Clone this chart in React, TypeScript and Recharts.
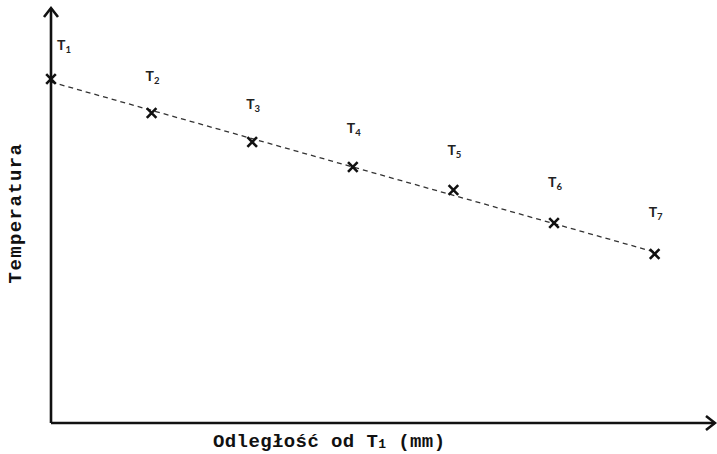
import React from "react";
import {
  ComposedChart,
  XAxis,
  YAxis,
  Scatter,
  Line,
  ReferenceDot,
  Label,
} from "recharts";

const distances = [0, 10, 20, 30, 40, 50, 60];
const temperatures = [86, 77.5, 70.25, 64, 58.25, 50, 42.25];
const pointNames = ["1", "2", "3", "4", "5", "6", "7"];

// fitted trend line, ends
const trendDistances = [0, 60];
const trendTemperatures = [85.25, 42.75];

const xMax = 66;
const yMax = 103.75;

const points = distances.map((d, i) => ({
  x: d,
  y: temperatures[i],
  name: pointNames[i],
}));
const trend = trendDistances.map((d, i) => ({ x: d, y: trendTemperatures[i] }));

const monoFont = "'Liberation Mono', 'Courier New', monospace";
const labelFont = "Lato, 'Open Sans', sans-serif";

const CrossShape = (props: any) => {
  const { cx, cy, payload, index } = props;
  const s = 4.8;
  const first = payload.name === "1";
  const lx = first ? cx + 6 : cx - 6;
  return (
    <g>
      <path
        d={`M${cx - s},${cy - s}L${cx + s},${cy + s}M${cx - s},${cy + s}L${cx + s},${cy - s}`}
        stroke="#111"
        strokeWidth={2.6}
      />
      <text
        x={lx}
        y={cy - (first ? 29 : 31 + (index ?? 0))}
        fontFamily={labelFont}
        fontWeight={700}
        fontSize={14}
        fill="#222"
      >
        T
        <tspan fontSize={9.5} dy={3}>
          {payload.name}
        </tspan>
      </text>
    </g>
  );
};

const UpArrow = (props: any) => {
  const { cx, cy } = props;
  return (
    <path
      d={`M${cx - 7},${cy + 9}L${cx},${cy}L${cx + 7},${cy + 9}`}
      fill="none"
      stroke="#111"
      strokeWidth={2.6}
    />
  );
};

const RightArrow = (props: any) => {
  const { cx, cy } = props;
  return (
    <path
      d={`M${cx - 9},${cy - 7}L${cx},${cy}L${cx - 9},${cy + 7}`}
      fill="none"
      stroke="#111"
      strokeWidth={2.6}
    />
  );
};

const XTitle = (props: any) => {
  const vb = props.viewBox;
  return (
    <text
      x={vb.x + 162}
      y={vb.y + 24}
      fontFamily={monoFont}
      fontWeight={700}
      fontSize={19}
      letterSpacing={0.4}
      fill="#111"
    >
      Odległość od T
      <tspan fontSize={13} dy={1}>
        1
      </tspan>
      <tspan dy={-1}> (mm)</tspan>
    </text>
  );
};

const YTitle = (props: any) => {
  const vb = props.viewBox;
  const x = vb.x + vb.width - 30;
  const y = vb.y + 205;
  return (
    <text
      x={x}
      y={y}
      transform={`rotate(-90, ${x}, ${y})`}
      textAnchor="middle"
      fontFamily={monoFont}
      fontWeight={700}
      fontSize={19}
      letterSpacing={1.4}
      fill="#111"
    >
      Temperatura
    </text>
  );
};

export default function App() {
  return (
    <div
      style={{
        position: "absolute",
        left: 0,
        top: 0,
        width: 717,
        height: 454,
        background: "#fff",
      }}
    >
      <ComposedChart
        width={717}
        height={454}
        margin={{ top: 8, right: 2, bottom: 30, left: 50 }}
      >
        <XAxis
          type="number"
          dataKey="x"
          domain={[0, xMax]}
          height={1}
          tick={false}
          tickLine={false}
          axisLine={{ stroke: "#111", strokeWidth: 2.6 }}
        >
          <Label content={<XTitle />} />
        </XAxis>
        <YAxis
          type="number"
          dataKey="y"
          domain={[0, yMax]}
          width={1}
          tick={false}
          tickLine={false}
          axisLine={{ stroke: "#111", strokeWidth: 2.6 }}
        >
          <Label content={<YTitle />} />
        </YAxis>
        <Line
          data={trend}
          dataKey="y"
          type="linear"
          stroke="#333"
          strokeWidth={1.3}
          strokeDasharray="5 4"
          dot={false}
          activeDot={false}
          isAnimationActive={false}
        />
        <Scatter
          data={points}
          dataKey="y"
          shape={<CrossShape />}
          isAnimationActive={false}
        />
        <ReferenceDot
          x={0}
          y={yMax}
          ifOverflow="visible"
          shape={<UpArrow />}
        />
        <ReferenceDot
          x={xMax}
          y={0}
          ifOverflow="visible"
          shape={<RightArrow />}
        />
      </ComposedChart>
    </div>
  );
}
